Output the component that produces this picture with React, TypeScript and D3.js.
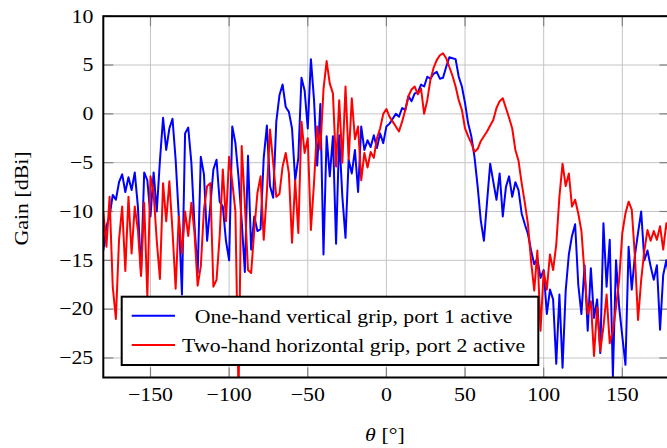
import React from 'react';
import * as d3 from 'd3';

// angle grid of the measurement, 2 degree steps
const theta = d3.range(-180, 181, 2);

// one-hand vertical grip, port 1 active (blue)
const oneHandGain = [
  -14.0, -11.5, -10.5, -8.3, -8.8, -7.0, -6.2, -8.0, -6.5, -7.8,
  -6.0, -9.5, -16.3, -6.0, -6.8, -10.5, -6.0, -10.0, -4.8, -0.4,
  -3.7, -1.5, -0.5, -4.7, -10.5, -18.5, -2.0, -1.4, -5.0, -11.5,
  -16.3, -4.4, -6.2, -13.0, -9.5, -5.7, -4.7, -9.0, -9.5, -13.0,
  -15.0, -1.3, -3.0, -6.5, -11.0, -16.2, -4.3, -13.9, -10.5, -12.0,
  -11.8, -4.5, -1.2, -7.4, -8.6, -0.8, 1.9, 3.0, 0.7, 0.2,
  -1.5, -6.8, -4.5, 3.7, 2.4, -1.5, 5.6, 1.4, -5.3, 1.0,
  -14.4, -2.3, -6.4, -2.3, -13.3, -2.2, -8.5, -12.7, -4.7, -6.1,
  -3.7, -8.0, -1.3, -3.7, -2.7, -3.4, -2.2, -3.5, -2.0, -3.0,
  -1.3, -1.0, -0.5, 0.0, -0.3, 0.6, 0.4, 1.8, 1.3, 2.1,
  2.2, 3.0, 2.8, 3.8, 3.6, 4.1, 4.3, 3.6, 3.7, 4.8,
  5.8, 5.7, 5.6, 3.8, 2.8, 1.1, -1.0, -2.3, -4.4, -7.4,
  -10.9, -13.0, -9.0, -5.1, -7.0, -8.8, -6.1, -10.5, -7.5, -6.4,
  -8.5, -7.0, -7.8, -10.2, -11.3, -12.3, -14.0, -15.4, -14.8, -16.8,
  -16.0, -20.5, -18.0, -19.0, -25.6, -18.5, -26.0, -18.1, -14.4, -12.5,
  -11.3, -17.5, -20.5, -15.5, -22.2, -15.8, -20.9, -19.0, -24.5, -11.2,
  -17.7, -12.9, -26.9, -15.0, -19.8, -22.8, -25.7, -13.6, -18.0, -14.5,
  -12.2, -10.0, -15.0, -14.0, -15.6, -17.0, -15.5, -22.1, -16.5, -15.0,
  -17.0,
];

// two-hand horizontal grip, port 2 active (red)
const twoHandGain = [
  -10.0, -13.6, -8.5, -17.7, -21.0, -12.9, -9.5, -16.1, -8.5, -14.3,
  -9.5, -11.9, -16.6, -9.1, -18.7, -6.4, -8.1, -13.0, -16.9, -7.1,
  -11.0, -6.9, -12.0, -17.9, -10.5, -14.3, -10.0, -12.5, -9.1, -12.2,
  -17.6, -15.6, -9.8, -7.4, -7.1, -17.7, -17.0, -12.5, -5.7, -11.0,
  -4.4, -7.0, -10.0, -29.0, -3.3, -9.2, -16.0, -16.3, -11.9, -8.1,
  -6.4, -12.9, -8.0, -1.6, -5.0, -8.5, -8.2, -5.4, -4.0, -6.1,
  -13.2, -6.8, -12.2, -0.8, -4.0, -2.5, -11.9, -7.0, -1.3, -3.7,
  2.5, 5.4, 3.1, 2.1, -5.4, 1.4, -5.0, 2.8, -4.7, 1.6,
  -2.6, -1.3, -6.8, -4.0, -5.5, -3.9, -4.5, -2.5, -1.5, 0.0,
  0.5, -0.3, -0.8, -1.3, -1.8, -0.8, 0.4, 1.8, 2.5, 2.8,
  2.0, 2.6, 0.0, 1.4, 3.5, 4.7, 5.5, 6.0, 6.2, 5.7,
  4.8, 3.9, 2.8, 1.4, 0.4, -1.5, -2.3, -3.0, -3.9, -3.6,
  -2.8, -2.3, -1.8, -1.2, -0.6, 0.6, 1.3, 1.6, 0.6, -0.4,
  -1.5, -3.7, -4.8, -7.1, -9.1, -11.3, -15.1, -18.1, -14.0, -22.2,
  -16.1, -18.0, -14.4, -16.0, -13.4, -8.5, -5.1, -7.4, -6.1, -9.5,
  -8.8, -10.2, -12.0, -16.4, -20.5, -19.2, -24.8, -19.8, -24.3, -21.8,
  -18.5, -23.5, -22.2, -19.8, -17.0, -12.2, -10.2, -9.0, -9.8, -14.6,
  -21.1, -17.0, -14.0, -11.9, -13.0, -12.0, -12.9, -11.5, -13.9, -11.2,
  -12.5,
];

const xTicks = [-150, -100, -50, 0, 50, 100, 150];
const yTicks = [-25, -20, -15, -10, -5, 0, 5, 10];
const legendLabels = [
  'One-hand vertical grip, port 1 active',
  'Two-hand horizontal grip, port 2 active',
];
const seriesColors = ['#0000ff', '#ff0000'];

const width = 667;
const height = 448;
const plot = { left: 103.3, right: 669.5, top: 16.2, bottom: 377.5 };

const FONT = '"Liberation Serif", "Times New Roman", serif';
const STRETCH = 1.15;

const Label = ({ x, y, anchor = 'middle', rotate = 0, size = 19, children }) => (
  <text
    transform={`translate(${x},${y}) rotate(${rotate}) scale(${STRETCH},1)`}
    textAnchor={anchor}
    fontSize={size}
    fontFamily={FONT}
    fill="#000"
  >
    {children}
  </text>
);

export default function App() {
  const x = d3.scaleLinear().domain([-180, 180]).range([plot.left, plot.right]);
  const y = d3.scaleLinear().domain([-27, 10]).range([plot.bottom, plot.top]);

  const line = d3
    .line<number>()
    .x((_, i) => x(theta[i]))
    .y((d) => y(d));

  const series = [oneHandGain, twoHandGain];

  const legend = { x: 121.7, y: 296.7, w: 416.6, h: 68.3 };
  const legendRows = [315.7, 345];

  return (
    <svg
      width={width}
      height={height}
      style={{ position: 'absolute', left: 0, top: 0, display: 'block', background: '#fff' }}
    >
      <defs>
        <clipPath id="plot-clip">
          <rect x={plot.left} y={plot.top} width={plot.right - plot.left} height={plot.bottom - plot.top} />
        </clipPath>
      </defs>

      {/* grid */}
      <g stroke="#c4c4c4" strokeWidth={1}>
        {xTicks.map((t) => (
          <line key={`gx${t}`} x1={x(t)} x2={x(t)} y1={plot.top} y2={plot.bottom} />
        ))}
        {yTicks.map((t) => (
          <line key={`gy${t}`} x1={plot.left} x2={plot.right} y1={y(t)} y2={y(t)} />
        ))}
      </g>

      {/* tick marks, inward on all sides */}
      <g stroke="#808080" strokeWidth={1.2}>
        {xTicks.map((t) => (
          <g key={`tx${t}`}>
            <line x1={x(t)} x2={x(t)} y1={plot.bottom} y2={plot.bottom - 10} />
            <line x1={x(t)} x2={x(t)} y1={plot.top} y2={plot.top + 10} />
          </g>
        ))}
        {yTicks.map((t) => (
          <g key={`ty${t}`}>
            <line x1={plot.left} x2={plot.left + 10} y1={y(t)} y2={y(t)} />
            <line x1={plot.right} x2={plot.right - 10} y1={y(t)} y2={y(t)} />
          </g>
        ))}
      </g>

      {/* data */}
      <g clipPath="url(#plot-clip)" fill="none" strokeWidth={2} strokeLinejoin="round">
        {series.map((s, i) => (
          <path key={i} d={line(s) || ''} stroke={seriesColors[i]} />
        ))}
      </g>

      {/* axis box */}
      <rect
        x={plot.left}
        y={plot.top}
        width={plot.right - plot.left}
        height={plot.bottom - plot.top}
        fill="none"
        stroke="#000"
        strokeWidth={2}
      />

      {/* tick labels */}
      {xTicks.map((t) => (
        <Label key={`lx${t}`} x={x(t)} y={plot.bottom + 23}>
          {t < 0 ? `\u2212${Math.abs(t)}` : `${t}`}
        </Label>
      ))}
      {yTicks.map((t) => (
        <Label key={`ly${t}`} x={93.3} y={y(t) + 6.3} anchor="end">
          {t < 0 ? `\u2212${Math.abs(t)}` : `${t}`}
        </Label>
      ))}

      {/* axis labels */}
      <Label x={385} y={441}>
        <tspan fontStyle="italic">θ</tspan>
        <tspan dx={5}>[°]</tspan>
      </Label>
      <Label x={28} y={198.4} rotate={-90}>
        Gain [dBi]
      </Label>

      {/* legend */}
      <rect x={legend.x} y={legend.y} width={legend.w} height={legend.h} fill="#fff" stroke="#000" strokeWidth={2} />
      {legendLabels.map((name, i) => (
        <g key={name}>
          <line
            x1={131.7}
            x2={175}
            y1={legendRows[i]}
            y2={legendRows[i]}
            stroke={seriesColors[i]}
            strokeWidth={2}
          />
          <Label x={353.6} y={legendRows[i] + 6.8}>
            {name}
          </Label>
        </g>
      ))}
    </svg>
  );
}
